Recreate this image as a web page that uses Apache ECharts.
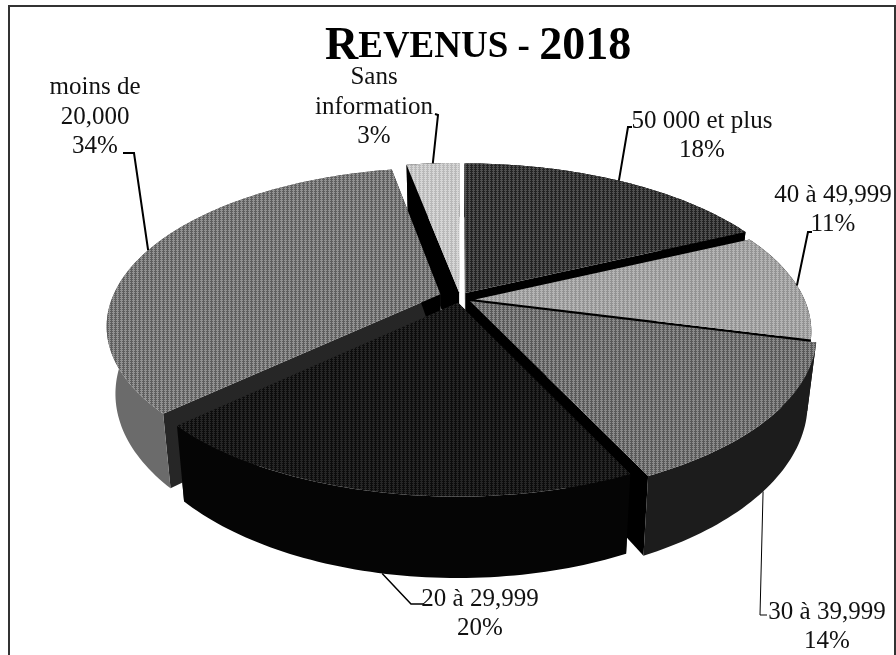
<!DOCTYPE html>
<html><head><meta charset="utf-8">
<style>html,body{margin:0;padding:0;background:#fff}#c{width:896px;height:655px}</style>
<script src="https://cdn.jsdelivr.net/npm/echarts@6/dist/echarts.min.js"></script>
</head><body><div id="c"></div>
<script>
// ---- data (clockwise from 12 o'clock)
var categories = ['50 000 et plus','40 à 49,999','30 à 39,999','20 à 29,999','moins de\n20,000','Sans\ninformation'];
var percents   = [18,11,14,20,34,3];

// ---- styles
var topLight = ['#505050','#b4b4b4','#8a8a8a','#262626','#929292','#d6d6d6'];
var topDark  = ['#222222','#929292','#585858','#0c0c0c','#5e5e5e','#b8b8b8'];
var sideCol  = ['#000000','#000000','#1c1c1c','#050505','#6b6b6b','#000000'];
var startWallCol = ['#000000','#000000','#000000','#000000','#262626','#000000'];
var endWallCol   = ['#000000','#000000','#000000','#262626','#000000','#000000'];

// ---- layout of the slices, labels and leader lines
var explode = [0.03,0.03,0.03,0.03,0.055,0.03];
var radius  = [1,0.975,1,0.98,0.97,1];
var nudgeX  = [0,5,2,0,-2,0];
var nudgeY  = [2,5,3,3,2,2];
var labelXY = [[702,136],[833,210],[827,627],[480,614],[95,117],[374,107]];
var leaderVia = [
  [[628,127],[632,127]],
  [[808,232],[812,232]],
  [[760,615],[767,615]],
  [[411,604],[424,604]],
  [[134,153],[123,153]],
  [[438,115],[435,114]]
];
var leaderDrop = [0,0,1,1,0,0];
var leaderW = [2,2,1,1.5,2,2];

// ---- projection of the tilted disc
var CX=460, CY=295, R=338, B=157, K=0.2, H=65, BOTTOM=0.975;

function proj(px,py,low,i){
  var w=1+K*py;
  var s=low?BOTTOM:1;
  return [CX+nudgeX[i]+s*R*px/w, CY+nudgeY[i]-B*py/w+(low?H/w:0)];
}
function tile(a,b){
  var c=document.createElement('canvas');c.width=4;c.height=2;
  var g=c.getContext('2d');
  g.fillStyle=a;g.fillRect(0,0,4,1);
  g.fillStyle=b;g.fillRect(0,1,4,1);
  g.fillStyle=a;g.fillRect(1,1,1,1);
  g.fillStyle=b;g.fillRect(3,0,1,1);
  return {image:c,repeat:'repeat'};
}
// angular spans
var spans=[],acc=0,total=percents.reduce(function(a,b){return a+b;},0);
percents.forEach(function(p){var s=acc/total*2*Math.PI;acc+=p;spans.push([s,acc/total*2*Math.PI]);});
var paintOrder=percents.map(function(p,i){return i;}).sort(function(a,b){
  return Math.cos((spans[b][0]+spans[b][1])/2)-Math.cos((spans[a][0]+spans[a][1])/2);
});
var rank=[];paintOrder.forEach(function(i,r){rank[i]=r;});

function renderSlice(params,api){
  var i=api.value(0), s=spans[i][0], e=spans[i][1], m=(s+e)/2, r=radius[i];
  var ox=explode[i]*Math.sin(m), oy=explode[i]*Math.cos(m);
  var arc=function(low){var pts=[],n=Math.ceil((e-s)/0.02);
    for(var k=0;k<=n;k++){var t=s+(e-s)*k/n;pts.push(proj(ox+r*Math.sin(t),oy+r*Math.cos(t),low,i));}
    return pts;};
  var up=arc(false), lo=arc(true);
  var a0=proj(ox,oy,false,i), a1=proj(ox,oy,true,i);
  var z=rank[i]*5+1;
  var kids=[];
  function poly(points,fill,zz){
    kids.push({type:'polygon',z2:zz,shape:{points:points},style:{fill:fill,lineWidth:0}});
  }
  poly([a0,up[0],lo[0],a1],startWallCol[i],z);
  poly([a0,up[up.length-1],lo[lo.length-1],a1],endWallCol[i],z);
  poly(up.concat(lo.slice().reverse()),sideCol[i],z+1);
  poly([a0].concat(up),tile(topLight[i],topDark[i]),z+2);
  var anchor=proj(ox+r*Math.sin(m),oy+r*Math.cos(m),!!leaderDrop[i],i);
  kids.push({type:'polyline',z2:100,shape:{points:[anchor].concat(leaderVia[i])},
    style:{stroke:'#000',lineWidth:leaderW[i],fill:null}});
  kids.push({type:'text',z2:101,x:labelXY[i][0],y:labelXY[i][1],
    style:{text:categories[i]+'\n'+percents[i]+'%',fill:'#111',
      font:'25px "Liberation Serif"',lineHeight:29.5,align:'center',verticalAlign:'middle'}});
  return {type:'group',children:kids};
}

var chart=echarts.init(document.getElementById('c'),null,{renderer:'canvas'});
chart.setOption({
  animation:false,
  backgroundColor:'#ffffff',
  title:{
    text:'{a|R}{b|EVENUS - }{a|2018}',
    left:325, top:24, padding:0,
    textStyle:{rich:{
      a:{fontFamily:'Liberation Serif',fontWeight:'bold',fontSize:46,color:'#000'},
      b:{fontFamily:'Liberation Serif',fontWeight:'bold',fontSize:37,color:'#000'}
    }}
  },
  graphic:[
    {type:'polyline',shape:{points:[[9,655],[9,6],[895,6],[895,655]]},style:{stroke:'#333',lineWidth:2,fill:null},silent:true}
  ],
  series:[{
    type:'custom',
    coordinateSystem:'none',
    silent:true,
    renderItem:renderSlice,
    data:percents.map(function(p,i){return [i,p];})
  }]
});
</script></body></html>
